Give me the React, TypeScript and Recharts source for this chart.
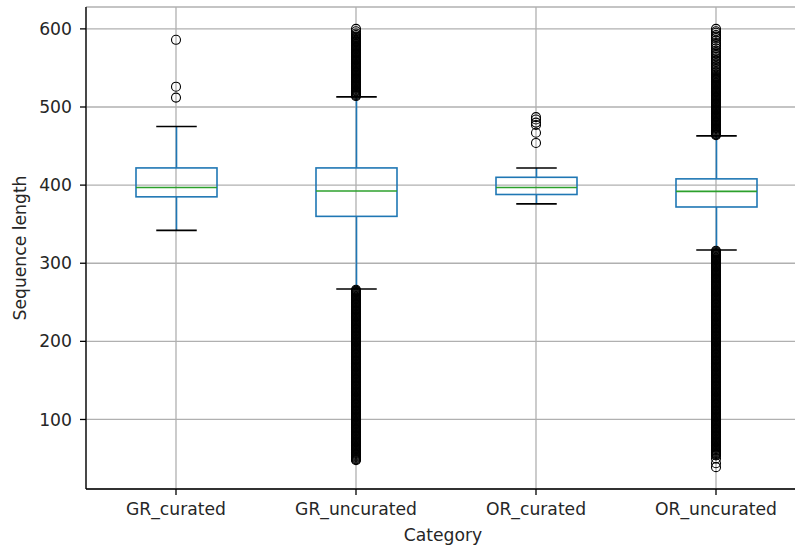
import React from 'react';
import { ComposedChart, Bar, Scatter, XAxis, YAxis, CartesianGrid } from 'recharts';

// Box statistics per category (sequence length)
const categories = ['GR_curated', 'GR_uncurated', 'OR_curated', 'OR_uncurated'];
const whiskerLow = [342, 267, 376, 317];
const quartile1 = [385, 360, 388, 372];
const medians = [397, 392.5, 397, 392];
const quartile3 = [422, 422, 410, 408];
const whiskerHigh = [475, 513, 422, 463];

// Fliers beyond the whiskers
const grCuratedOutliers = [512, 526, 586];
const grUncuratedOutliers = [
  48, 49, 50, 51, 52, 53, 54, 55, 56, 57, 58, 59, 60, 61, 62, 63, 64, 65, 66, 67,
  68, 69, 70, 71, 72, 73, 74, 75, 76, 77, 78, 79, 80, 81, 82, 83, 84, 85, 86, 87,
  88, 89, 90, 91, 92, 93, 94, 95, 96, 97, 98, 99, 100, 101, 102, 103, 104, 105, 106, 107,
  108, 109, 110, 111, 112, 113, 114, 115, 116, 117, 118, 119, 120, 121, 122, 123, 124, 125, 126, 127,
  128, 129, 130, 131, 132, 133, 134, 135, 136, 137, 138, 139, 140, 141, 142, 143, 144, 145, 146, 147,
  148, 149, 150, 151, 152, 153, 154, 155, 156, 157, 158, 159, 160, 161, 162, 163, 164, 165, 166, 167,
  168, 169, 170, 171, 172, 173, 174, 175, 176, 177, 178, 179, 180, 181, 182, 183, 184, 185, 186, 187,
  188, 189, 190, 191, 192, 193, 194, 195, 196, 197, 198, 199, 200, 201, 202, 203, 204, 205, 206, 207,
  208, 209, 210, 211, 212, 213, 214, 215, 216, 217, 218, 219, 220, 221, 222, 223, 224, 225, 226, 227,
  228, 229, 230, 231, 232, 233, 234, 235, 236, 237, 238, 239, 240, 241, 242, 243, 244, 245, 246, 247,
  248, 249, 250, 251, 252, 253, 254, 255, 256, 257, 258, 259, 260, 261, 262, 263, 264, 265, 266,
  514, 515, 516, 517, 518, 519, 520, 521, 522, 523, 524, 525, 526, 527, 528, 529, 530, 531, 532, 533,
  534, 535, 536, 537, 538, 539, 540, 541, 542, 543, 544, 545, 546, 547, 548, 549, 550, 551, 552, 553,
  554, 555, 556, 557, 558, 559, 560, 561, 562, 563, 564, 565, 566, 567, 568, 569, 570, 571, 572, 573,
  574, 575, 576, 577, 578, 579, 580, 581, 582, 583, 584, 585, 586, 587, 588, 589, 590, 592, 594, 597, 600,
];
const orCuratedOutliers = [454, 467, 477, 480, 484, 487];
const orUncuratedOutliers = [
  39, 44, 50, 54, 55, 56, 57, 58, 59, 60, 61, 62, 63, 64, 65, 66, 67,
  68, 69, 70, 71, 72, 73, 74, 75, 76, 77, 78, 79, 80, 81, 82, 83, 84, 85, 86, 87,
  88, 89, 90, 91, 92, 93, 94, 95, 96, 97, 98, 99, 100, 101, 102, 103, 104, 105, 106, 107,
  108, 109, 110, 111, 112, 113, 114, 115, 116, 117, 118, 119, 120, 121, 122, 123, 124, 125, 126, 127,
  128, 129, 130, 131, 132, 133, 134, 135, 136, 137, 138, 139, 140, 141, 142, 143, 144, 145, 146, 147,
  148, 149, 150, 151, 152, 153, 154, 155, 156, 157, 158, 159, 160, 161, 162, 163, 164, 165, 166, 167,
  168, 169, 170, 171, 172, 173, 174, 175, 176, 177, 178, 179, 180, 181, 182, 183, 184, 185, 186, 187,
  188, 189, 190, 191, 192, 193, 194, 195, 196, 197, 198, 199, 200, 201, 202, 203, 204, 205, 206, 207,
  208, 209, 210, 211, 212, 213, 214, 215, 216, 217, 218, 219, 220, 221, 222, 223, 224, 225, 226, 227,
  228, 229, 230, 231, 232, 233, 234, 235, 236, 237, 238, 239, 240, 241, 242, 243, 244, 245, 246, 247,
  248, 249, 250, 251, 252, 253, 254, 255, 256, 257, 258, 259, 260, 261, 262, 263, 264, 265, 266, 267,
  268, 269, 270, 271, 272, 273, 274, 275, 276, 277, 278, 279, 280, 281, 282, 283, 284, 285, 286, 287,
  288, 289, 290, 291, 292, 293, 294, 295, 296, 297, 298, 299, 300, 301, 302, 303, 304, 305, 306, 307,
  308, 309, 310, 311, 312, 313, 314, 315, 316,
  464, 465, 466, 467, 468, 469, 470, 471, 472, 473, 474, 475, 476, 477, 478, 479, 480, 481, 482, 483,
  484, 485, 486, 487, 488, 489, 490, 491, 492, 493, 494, 495, 496, 497, 498, 499, 500, 501, 502, 503,
  504, 505, 506, 507, 508, 509, 510, 511, 512, 513, 514, 515, 516, 517, 518, 519, 520, 521, 522, 523,
  524, 525, 526, 527, 528, 529, 530, 531, 532, 533, 534, 535, 536, 537, 538, 539, 540,
  542, 544, 546, 548, 550, 552, 554, 556, 558, 560, 562, 564, 566, 568, 570, 572, 575, 578, 580, 582,
  585, 588, 590, 592, 595, 597, 600,
];

const yTicks = [100, 200, 300, 400, 500, 600];

const boxData = categories.map((name, i) => ({
  name,
  lo: whiskerLow[i],
  q1: quartile1[i],
  med: medians[i],
  q3: quartile3[i],
  hi: whiskerHigh[i],
}));

const fliers = [grCuratedOutliers, grUncuratedOutliers, orCuratedOutliers, orUncuratedOutliers].flatMap(
  (vals, i) => vals.map((v) => ({ pos: i + 1, value: v }))
);

const FONT = '"DejaVu Sans", sans-serif';
const TEXT = '#262626';
const FONT_SIZE = 17.2;

// The bar spans lo..hi; everything inside it is placed along that span.
const BoxShape = (props: any) => {
  const { x, y, width, height, payload } = props;
  const top = Math.min(y, y + height);
  const bottom = Math.max(y, y + height);
  const span = payload.hi - payload.lo;
  const at = (v: number) => bottom - ((v - payload.lo) / span) * (bottom - top);
  const cx = x + width / 2;
  const cap = width / 4;
  return (
    <g>
      <line x1={cx} x2={cx} y1={at(payload.q3)} y2={top} stroke="#1f77b4" strokeWidth={1.6} />
      <line x1={cx} x2={cx} y1={at(payload.q1)} y2={bottom} stroke="#1f77b4" strokeWidth={1.6} />
      <line x1={cx - cap} x2={cx + cap} y1={top} y2={top} stroke="#000" strokeWidth={1.6} />
      <line x1={cx - cap} x2={cx + cap} y1={bottom} y2={bottom} stroke="#000" strokeWidth={1.6} />
      <rect
        x={x}
        y={at(payload.q3)}
        width={width}
        height={at(payload.q1) - at(payload.q3)}
        fill="none"
        stroke="#1f77b4"
        strokeWidth={1.6}
      />
      <line x1={x} x2={x + width} y1={at(payload.med)} y2={at(payload.med)} stroke="#2ca02c" strokeWidth={1.6} />
    </g>
  );
};

const Flier = (props: any) => (
  <circle cx={props.cx} cy={props.cy} r={4.5} fill="none" stroke="#000" strokeWidth={1.1} />
);

export default function App() {
  return (
    <div style={{ position: 'absolute', left: 0, top: 0, width: 795, height: 547, overflow: 'hidden', background: '#fff' }}>
      <ComposedChart width={820} height={547} data={boxData} margin={{ top: 7, right: 14, left: 0, bottom: 0 }}>
        <CartesianGrid xAxisId="cat" stroke="#b0b0b0" strokeWidth={1.3} />
        <XAxis
          xAxisId="cat"
          dataKey="name"
          type="category"
          height={58}
          axisLine={{ stroke: '#000', strokeWidth: 1.3 }}
          tickLine={{ stroke: '#000', strokeWidth: 1.3 }}
          tickSize={6}
          tickMargin={8}
          tick={{ fill: TEXT, fontSize: FONT_SIZE, fontFamily: FONT }}
          label={{
            content: ({ viewBox }: any) => (
              <text
                x={viewBox.x + viewBox.width / 2 - 3}
                y={viewBox.y + 52}
                textAnchor="middle"
                fill={TEXT}
                fontSize={FONT_SIZE}
                fontFamily={FONT}
              >
                Category
              </text>
            ),
          }}
        />
        <XAxis
          xAxisId="pos"
          dataKey="pos"
          type="number"
          orientation="top"
          domain={[0.5, 4.5]}
          height={0}
          tick={false}
          tickLine={false}
          axisLine={{ stroke: '#000', strokeWidth: 1.3 }}
        />
        <YAxis
          type="number"
          domain={[11, 628]}
          ticks={yTicks}
          allowDataOverflow
          width={86}
          axisLine={{ stroke: '#000', strokeWidth: 1.3 }}
          tickLine={{ stroke: '#000', strokeWidth: 1.3 }}
          tickSize={6}
          tickMargin={8}
          tick={{ fill: TEXT, fontSize: FONT_SIZE, fontFamily: FONT }}
          label={{
            content: ({ viewBox }: any) => {
              const lx = viewBox.x + 26;
              const ly = viewBox.y + viewBox.height / 2;
              return (
                <text
                  x={lx}
                  y={ly}
                  transform={`rotate(-90 ${lx} ${ly})`}
                  textAnchor="middle"
                  fill={TEXT}
                  fontSize={FONT_SIZE}
                  fontFamily={FONT}
                >
                  Sequence length
                </text>
              );
            },
          }}
        />
        <Bar
          xAxisId="cat"
          dataKey={(d: any) => [d.lo, d.hi]}
          barSize={81}
          shape={BoxShape}
          isAnimationActive={false}
        />
        <Scatter
          xAxisId="pos"
          data={fliers}
          dataKey="value"
          shape={Flier}
          isAnimationActive={false}
        />
      </ComposedChart>
    </div>
  );
}
